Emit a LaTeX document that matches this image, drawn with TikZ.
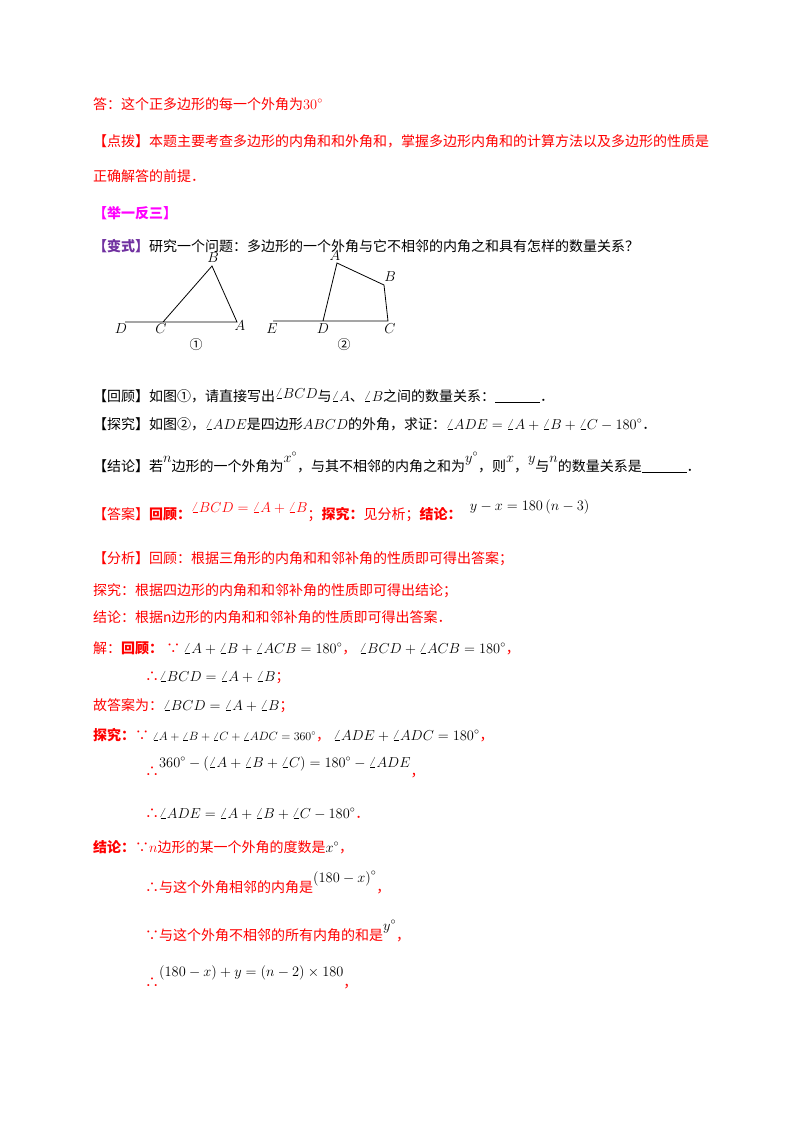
\documentclass[tikz,border=0pt]{standalone}
\usepackage{fontspec}
\setmainfont{Noto Sans CJK SC}
\definecolor{rd}{RGB}{255,0,0}
\definecolor{mg}{RGB}{255,0,255}
\definecolor{pu}{RGB}{112,48,160}
\newcommand{\blk}{\rule[-1.5pt]{3.2em}{0.8pt}}
\begin{document}
\begin{tikzpicture}[x=1pt,y=-1pt,
  t/.style={anchor=base west,inner sep=0pt,font=\fontsize{14}{16}\selectfont},
  lb/.style={inner sep=0pt,font=\fontsize{14}{16}\selectfont},
  ln/.style={line width=0.8pt}]
\useasboundingbox[fill=white] (0,0) rectangle (800,1132);
\node[t,text=rd] (l1) at (93,109) {答：这个正多边形的每一个外角为$30^\circ$};
\node[t,text=rd] (l2) at (93,146) {【点拨】本题主要考查多边形的内角和和外角和，掌握多边形内角和的计算方法以及多边形的性质是};
\node[t,text=rd] (l3) at (93,181) {正确解答的前提．};
\node[t,text=mg] (l4) at (93,218) {\bfseries【举一反三】};
\node[t] (l5) at (93,251) {\textcolor{pu}{\bfseries【变式】}研究一个问题：多边形的一个外角与它不相邻的内角之和具有怎样的数量关系？};
% figure 1
\coordinate (D1) at (125,322); \coordinate (C1) at (163,322);
\coordinate (B1) at (212,266); \coordinate (A1) at (237,322);
\draw[ln] (D1) -- (A1) -- (B1) -- (C1);
\node[lb] (tD1) at (121,329) {$D$};
\node[lb] (tC1) at (161,329) {$C$};
\node[lb] (tB1) at (213,258) {$B$};
\node[lb] (tA1) at (240,326) {$A$};
\node[inner sep=0pt,font=\fontsize{13}{15}\selectfont] (n1) at (196,345) {①};
% figure 2
\coordinate (E2) at (273,321); \coordinate (D2) at (323,321);
\coordinate (A2) at (337,263); \coordinate (B2) at (384,285); \coordinate (C2) at (388,321);
\draw[ln] (E2) -- (C2) -- (B2) -- (A2) -- (D2);
\node[lb] (tE2) at (272,329) {$E$};
\node[lb] (tD2) at (323,329) {$D$};
\node[lb] (tC2) at (390,329) {$C$};
\node[lb] (tA2) at (335,256) {$A$};
\node[lb] (tB2) at (390,277) {$B$};
\node[inner sep=0pt,font=\fontsize{13}{15}\selectfont] (n2) at (344,345) {②};
% questions
\node[t] (q1) at (93,401) {【回顾】如图①，请直接写出$\raisebox{3pt}{$\angle BCD$}$与$\angle A$、$\angle B$之间的数量关系：\blk．};
\node[t] (q2) at (93,429) {【探究】如图②，$\angle ADE$是四边形$ABCD$的外角，求证：$\angle ADE=\angle A+\angle B+\angle C-180^\circ$．};
\node[t] (q3) at (93,471) {【结论】若\raisebox{9pt}{$n$}边形的一个外角为\raisebox{9pt}{$x^\circ$}，与其不相邻的内角之和为\raisebox{9pt}{$y^\circ$}，则\raisebox{9pt}{$x$}，\raisebox{9pt}{$y$}与\raisebox{9pt}{$n$}的数量关系是\blk．};
\node[t,text=rd] (a1) at (93,519) {【答案】\textbf{回顾：}\raisebox{7pt}{$\angle BCD=\angle A+\angle B$}；\textbf{探究：}见分析；\textbf{结论：}\hspace{0.6em}\raisebox{9pt}{\textcolor{black}{$y-x=180\left(n-3\right)$}}};
\node[t,text=rd] (f1) at (93,563) {【分析】回顾：根据三角形的内角和和邻补角的性质即可得出答案；};
\node[t,text=rd] (f2) at (93,595) {探究：根据四边形的内角和和邻补角的性质即可得出结论；};
\node[t,text=rd] (f3) at (93,622) {结论：根据n边形的内角和和邻补角的性质即可得出答案．};
\node[t,text=rd] (s1) at (93,653) {解：\textbf{回顾：}\ ∵\ \textcolor{black}{$\angle A+\angle B+\angle ACB=180^\circ$}，\ \textcolor{black}{$\angle BCD+\angle ACB=180^\circ$}，};
\node[t,text=rd] (s2) at (145,681) {∴\textcolor{black}{$\angle BCD=\angle A+\angle B$}；};
\node[t,text=rd] (s3) at (93,710) {故答案为：\textcolor{black}{$\angle BCD=\angle A+\angle B$}；};
\node[t,text=rd] (s4) at (93,740) {\textbf{探究：}∵\ \textcolor{black}{\fontsize{12}{14}\selectfont$\angle A+\angle B+\angle C+\angle ADC=360^\circ$}，\ \textcolor{black}{$\angle ADE+\angle ADC=180^\circ$}，};
\node[t,text=rd] (s5) at (145,776) {∴\raisebox{9pt}{\textcolor{black}{$360^\circ-\left(\angle A+\angle B+\angle C\right)=180^\circ-\angle ADE$}}，};
\node[t,text=rd] (s6) at (145,818) {∴\textcolor{black}{$\angle ADE=\angle A+\angle B+\angle C-180^\circ$}．};
\node[t,text=rd] (s7) at (93,852) {\textbf{结论：}∵$n$边形的某一个外角的度数是\textcolor{black}{$x^\circ$}，};
\node[t,text=rd] (s8) at (145,892) {∴与这个外角相邻的内角是\raisebox{10pt}{\textcolor{black}{$\left(180-x\right)^\circ$}}，};
\node[t,text=rd] (s9) at (145,940) {∵与这个外角不相邻的所有内角的和是\raisebox{10pt}{\textcolor{black}{$y^\circ$}}，};
\node[t,text=rd] (s10) at (145,987) {∴\raisebox{11pt}{\textcolor{black}{$\left(180-x\right)+y=\left(n-2\right)\times180$}}，};
\end{tikzpicture}
\end{document}
